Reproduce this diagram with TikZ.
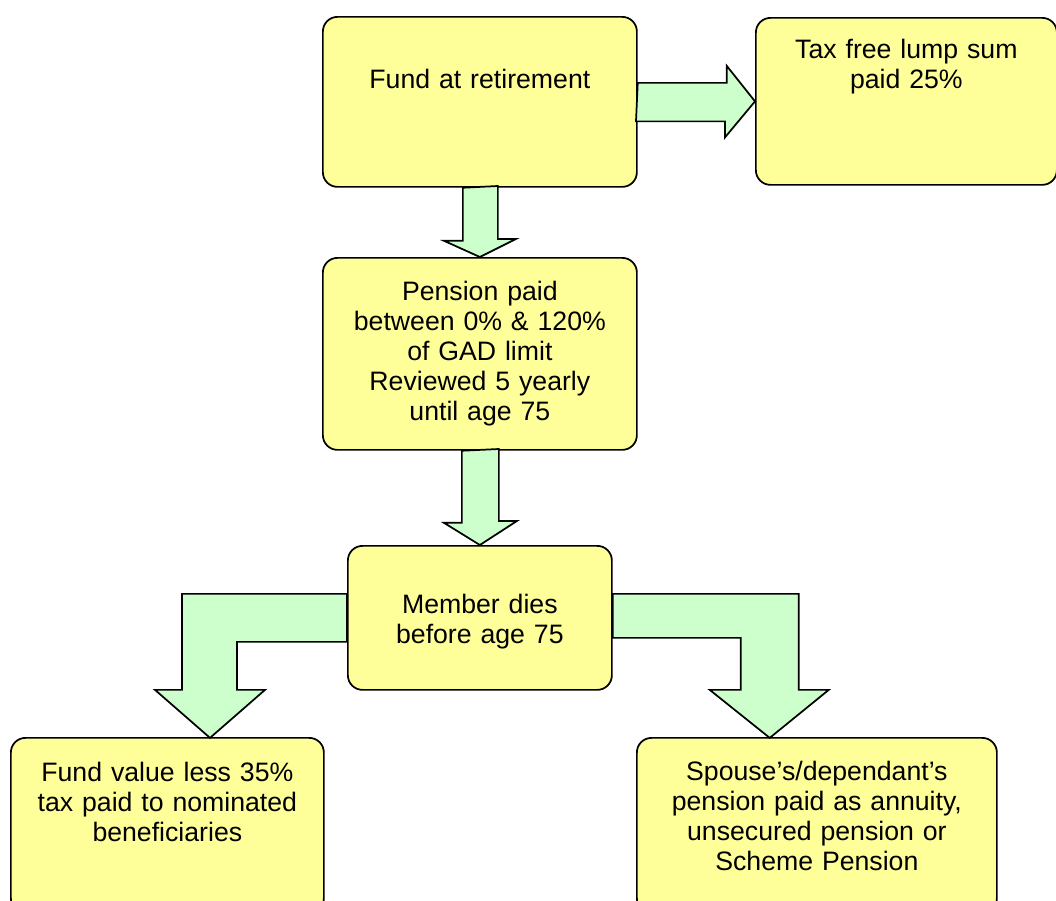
\documentclass[tikz,border=0pt]{standalone}
\usepackage{fontspec}
\setmainfont{Liberation Sans}
\usepackage{tikz}
\usetikzlibrary{calc}
\definecolor{boxyellow}{HTML}{FFFF99}
\definecolor{arrowgreen}{HTML}{CCFFCC}

\begin{document}
\begin{tikzpicture}[x=0.75pt,y=-0.75pt,
box/.style={draw,fill=boxyellow,line width=1.3pt,rounded corners=11pt,anchor=north west,
inner xsep=0pt,inner ysep=0pt,align=center,font=\fontsize{20}{22.5}\selectfont},
blockarrow/.style={draw,fill=arrowgreen,line width=1.3pt,line join=miter}]
\useasboundingbox(0,0)rectangle(1056,900);
\clip(0,0)rectangle(1056,900);
% boxes
\node[box,text width=235.5pt,text height=54pt,text depth=73.5pt](fund)at(322,16){Fund at retirement};
\node[box,text width=225.75pt,text height=30.5pt,text depth=94.75pt](tax)at(755,17){Tax free lump sum\\paid 25\%};
\node[box,text width=235.5pt,minimum height=144pt](pension)at(322,257){Pension paid\\between 0\% \& 120\%\\of GAD limit\\Reviewed 5 yearly\\until age 75};
\node[box,text width=198pt,text height=51pt,text depth=57pt](member)at(347,545){Member dies\\before age 75};
\node[box,text width=234.75pt,text height=32.5pt,text depth=98.75pt](value)at(10,737){Fund value less 35\%\\tax paid to nominated\\beneficiaries};
\node[box,text width=270pt,text height=32pt,text depth=99.25pt](spouse)at(636,737){Spouse's/dependant's\\pension paid as annuity,\\unsecured pension or\\Scheme Pension};
% block arrows
\draw[blockarrow](fund.east)++(0,-19)--++(89,0)--++(0,-17)--(tax.west)--++(-30,36)--++(0,-16)--++(-89,0)--cycle;
\draw[blockarrow](fund.south)++(-17,0)--++(0,53)--++(-19,0)--(pension.north)--++(36,-18)--++(-18,0)--++(0,-53)--cycle;
\draw[blockarrow](pension.south)++(-18,0)--++(0,72)--++(-18,0)--(member.north)--++(37,-24)--++(-18,0)--++(0,-72)--cycle;
\draw[blockarrow](member.west)++(0,-24)--++(-165,0)--++(0,96)--++(-27,0)--++(55,48)coordinate(tipL)--++(55,-48)--++(-28,0)--++(0,-48)--++(110,0)--cycle;
\draw[blockarrow](member.east)++(0,-24)--++(186,0)--++(0,96)--++(30,0)--++(-59,48)coordinate(tipR)--++(-60,-48)--++(31,0)--++(0,-52)--++(-128,0)--cycle;
\end{tikzpicture}
\end{document}
